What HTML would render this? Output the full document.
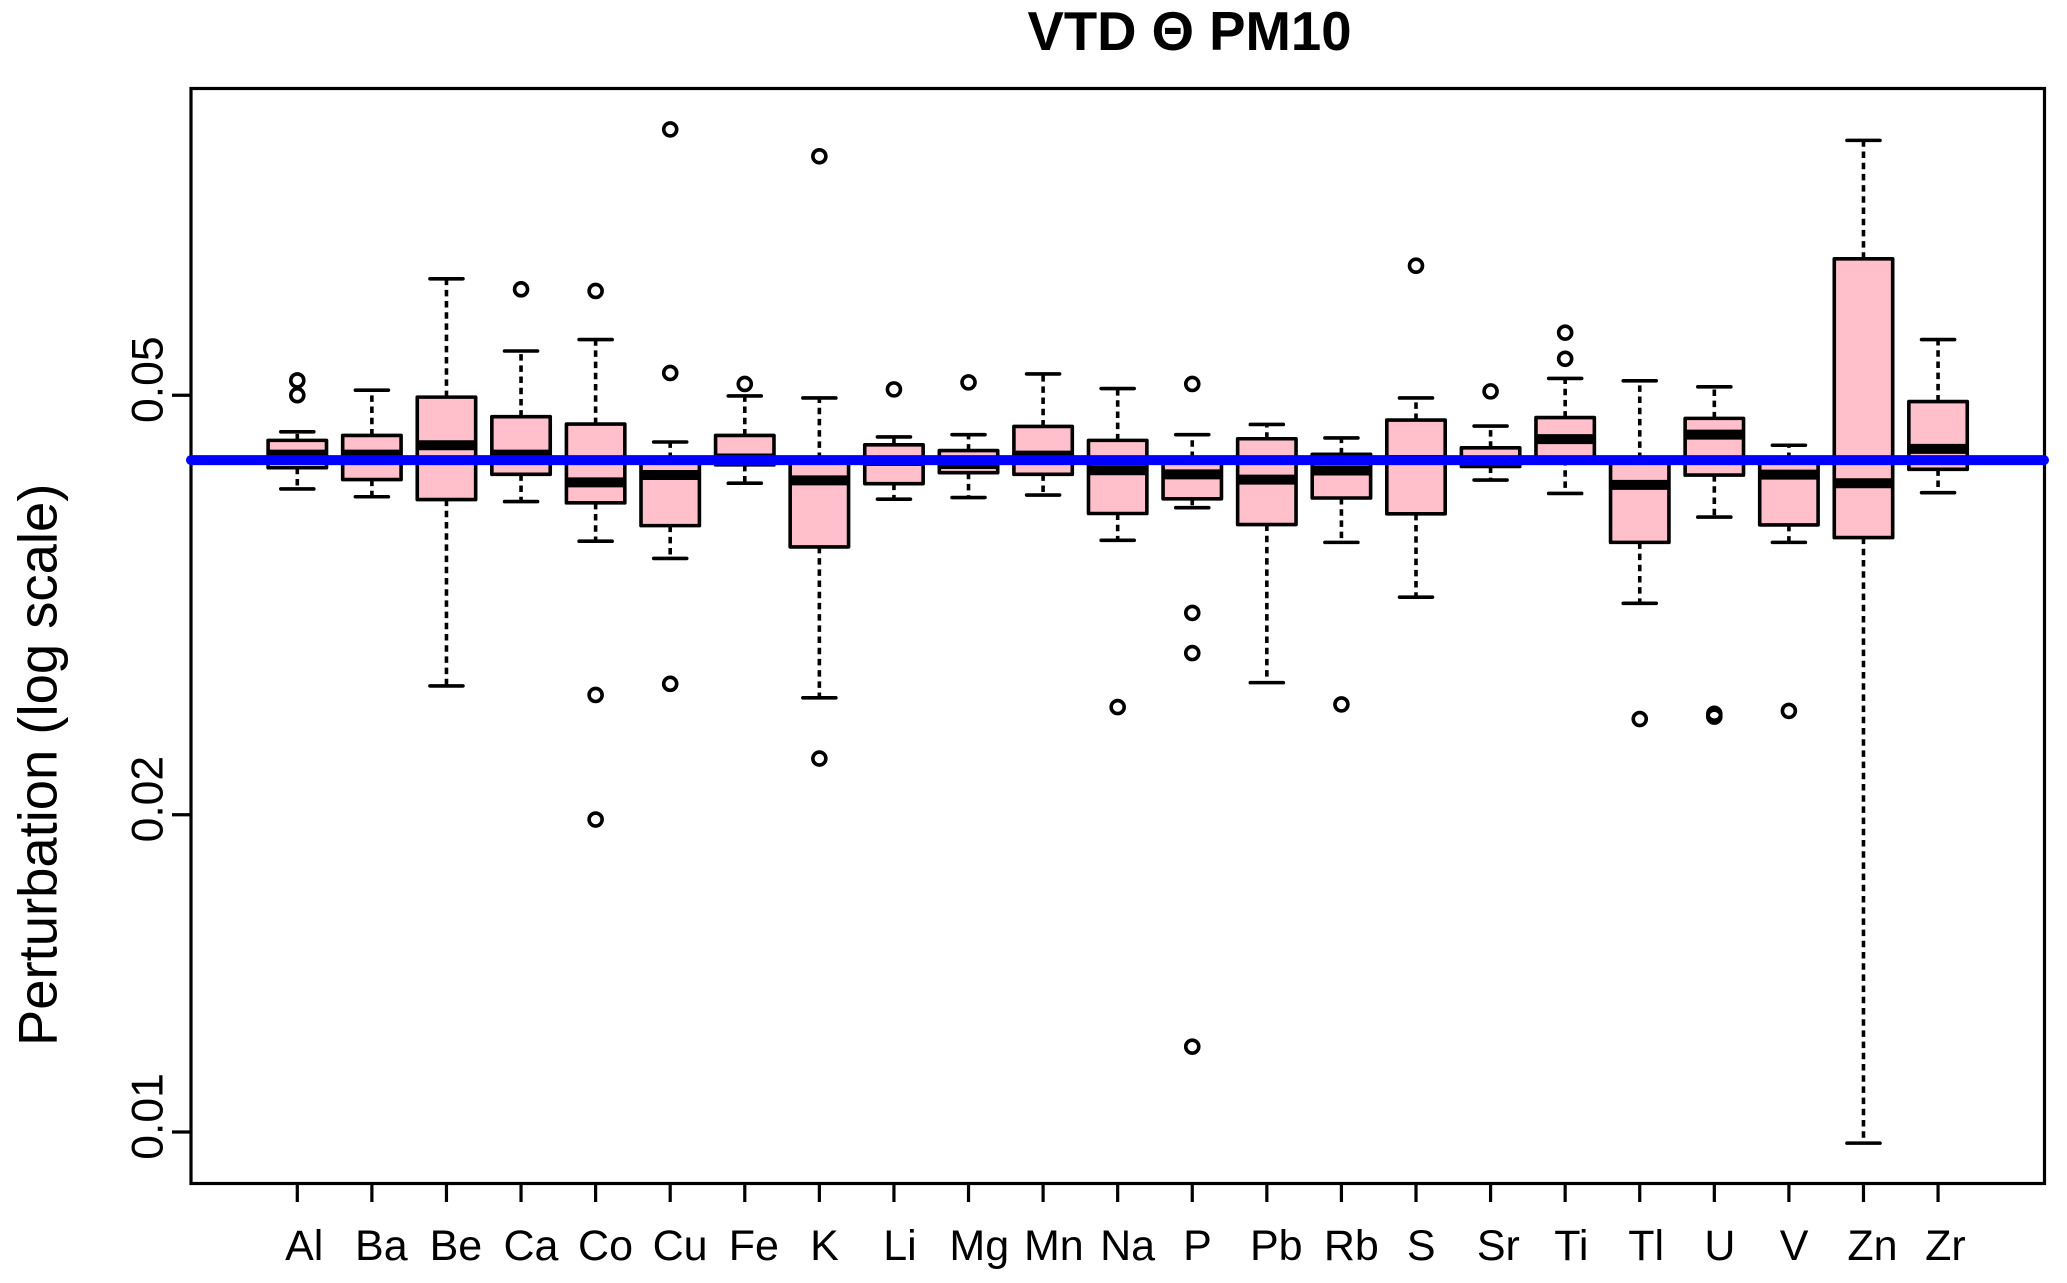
<!DOCTYPE html>
<html lang="en">
<head>
<meta charset="utf-8">
<title>VTD Θ PM10</title>
<style>
html,body{margin:0;padding:0;background:#fff;width:2067px;height:1283px;overflow:hidden}
svg{display:block}
text{font-family:"Liberation Sans",sans-serif;fill:#000}
</style>
</head>
<body>
<svg id="chart" xmlns="http://www.w3.org/2000/svg" width="2067" height="1283" viewBox="0 0 2067 1283">
  <rect x="0" y="0" width="2067" height="1283" fill="#fff"/>
  <text x="1189.5" y="50" text-anchor="middle" font-size="54.5" font-weight="700">VTD Θ PM10</text>
  <text transform="translate(56.5,1046) rotate(-90)" font-size="54.4">Perturbation (log scale)</text>
  <g id="boxes"></g>
  <rect x="191" y="88.5" width="1853.5" height="1095" fill="none" stroke="#000" stroke-width="3.2"/>
  <g id="axes"></g>
  <line id="ref" stroke="#0000ff" stroke-width="10" stroke-linecap="round"/>
</svg>
<script>
var categories = ["Al","Ba","Be","Ca","Co","Cu","Fe","K","Li","Mg","Mn","Na","P","Pb","Rb","S","Sr","Ti","Tl","U","V","Zn","Zr"];
var whiskerHigh = [0.04617,0.05056,0.06449,0.05508,0.05647,0.04515,0.04993,0.04971,0.04565,0.04588,0.05239,0.05074,0.04588,0.04691,0.04555,0.04971,0.04675,0.05188,0.05161,0.05093,0.04483,0.08726,0.05647];
var boxTop = [0.04531,0.04580,0.04980,0.04772,0.04695,0.04350,0.04580,0.04350,0.04487,0.04431,0.04671,0.04531,0.04360,0.04547,0.04395,0.04737,0.04458,0.04762,0.04350,0.04754,0.04350,0.06737,0.04932];
var medians = [0.04392,0.04392,0.04483,0.04392,0.04134,0.04201,0.04355,0.04152,0.04331,0.04303,0.04382,0.04245,0.04207,0.04159,0.04242,0.04341,0.04331,0.04543,0.04111,0.04588,0.04204,0.04126,0.04447];
var boxBottom = [0.04268,0.04159,0.03981,0.04207,0.03953,0.03761,0.04295,0.03590,0.04122,0.04222,0.04207,0.03862,0.03988,0.03770,0.03995,0.03859,0.04280,0.04350,0.03626,0.04200,0.03767,0.03664,0.04253];
var whiskerLow = [0.04075,0.04006,0.02650,0.03964,0.03635,0.03501,0.04126,0.02582,0.03985,0.03999,0.04021,0.03642,0.03911,0.02669,0.03626,0.03217,0.04155,0.04035,0.03174,0.03832,0.03626,0.00976,0.04042];
var outliers = [
  [0.05165,0.05001],[],[],[0.06302],[0.06280,0.02598,0.01979],[0.08938,0.05250,0.02662],[0.05125],
  [0.08428,0.02261],[0.05065],[0.05143],[],[0.02530],[0.05125,0.03108,0.02847,0.01205],[],[0.02545],
  [0.06636],[0.05043],[0.05733,0.05415],[0.02465],[0.02493,0.02478],[0.02509],[],[]
];
var yTicks = [0.01,0.02,0.05];
var yTickLabels = ["0.01","0.02","0.05"];
var referenceValue = 0.0434;

var NS = "http://www.w3.org/2000/svg";
function xScale(i){ return 297.3 + 74.58 * i; }
function yScale(v){ return 1132 - 1054 * Math.log10(v / 0.01); }
function mk(parent, tag){
  var e = document.createElementNS(NS, tag);
  parent.appendChild(e);
  return e;
}
function seg(e, x1, y1, x2, y2, w){
  e.setAttribute("x1", x1);
  e.setAttribute("y1", y1);
  e.setAttribute("x2", x2);
  e.setAttribute("y2", y2);
  e.setAttribute("stroke", "#000");
  e.setAttribute("stroke-width", w);
}

var boxesLayer = document.getElementById("boxes");
var axesLayer = document.getElementById("axes");
var BOX_HALF = 31, CAP_HALF = 16.5, STROKE = 3.6;

categories.forEach(function(cat, i){
  var cx = xScale(i);
  var g = mk(boxesLayer, "g");
  
  

  var wu = mk(g, "line");
  
  
  seg(wu, cx, yScale(boxTop[i]), cx, yScale(whiskerHigh[i]), STROKE);
  wu.setAttribute("stroke-dasharray", "6.5 4.7");

  var wl = mk(g, "line");
  
  
  seg(wl, cx, yScale(boxBottom[i]), cx, yScale(whiskerLow[i]), STROKE);
  wl.setAttribute("stroke-dasharray", "6.5 4.7");

  var cu = mk(g, "line");
  
  
  seg(cu, cx - CAP_HALF, yScale(whiskerHigh[i]), cx + CAP_HALF, yScale(whiskerHigh[i]), STROKE);
  cu.setAttribute("stroke-linecap", "round");

  var cl = mk(g, "line");
  
  
  seg(cl, cx - CAP_HALF, yScale(whiskerLow[i]), cx + CAP_HALF, yScale(whiskerLow[i]), STROKE);
  cl.setAttribute("stroke-linecap", "round");

  var r = mk(g, "rect");
  
  
  r.setAttribute("x", cx - BOX_HALF + STROKE / 2);
  r.setAttribute("y", yScale(boxTop[i]));
  r.setAttribute("width", 2 * BOX_HALF - STROKE);
  r.setAttribute("height", yScale(boxBottom[i]) - yScale(boxTop[i]));
  r.setAttribute("fill", "#ffc0cb");
  r.setAttribute("stroke", "#000");
  r.setAttribute("stroke-width", STROKE);
  r.setAttribute("stroke-linejoin", "round");

  var m = mk(g, "line");
  
  
  seg(m, cx - BOX_HALF + 1, yScale(medians[i]), cx + BOX_HALF - 1, yScale(medians[i]), 10);

  outliers[i].forEach(function(v){
    var c = mk(g, "circle");
    
    
    c.setAttribute("cx", cx);
    c.setAttribute("cy", yScale(v));
    c.setAttribute("r", 6.5);
    c.setAttribute("fill", "none");
    c.setAttribute("stroke", "#000");
    c.setAttribute("stroke-width", STROKE);
  });

  var t = mk(axesLayer, "line");
  
  
  seg(t, cx, 1183.5, cx, 1202, 3.2);

  var lab = mk(axesLayer, "text");
  
  
  lab.setAttribute("font-size", 43);
  lab.setAttribute("y", 1260);
  lab.textContent = cat;
  lab.setAttribute("x", cx - 0.32 * lab.getComputedTextLength());
});

yTicks.forEach(function(v, i){
  var y = yScale(v);
  var t = mk(axesLayer, "line");
  
  
  seg(t, 172, y, 191, y, 3.2);

  var lab = mk(axesLayer, "text");
  
  
  lab.setAttribute("font-size", 44.5);
  lab.textContent = yTickLabels[i];
  var w = lab.getComputedTextLength();
  lab.setAttribute("transform", "translate(162.5," + (y + 0.32 * w) + ") rotate(-90)");
});

var ref = document.getElementById("ref");
ref.setAttribute("x1", 191);
ref.setAttribute("x2", 2044);
ref.setAttribute("y1", yScale(referenceValue));
ref.setAttribute("y2", yScale(referenceValue));
</script>
</body>
</html>
